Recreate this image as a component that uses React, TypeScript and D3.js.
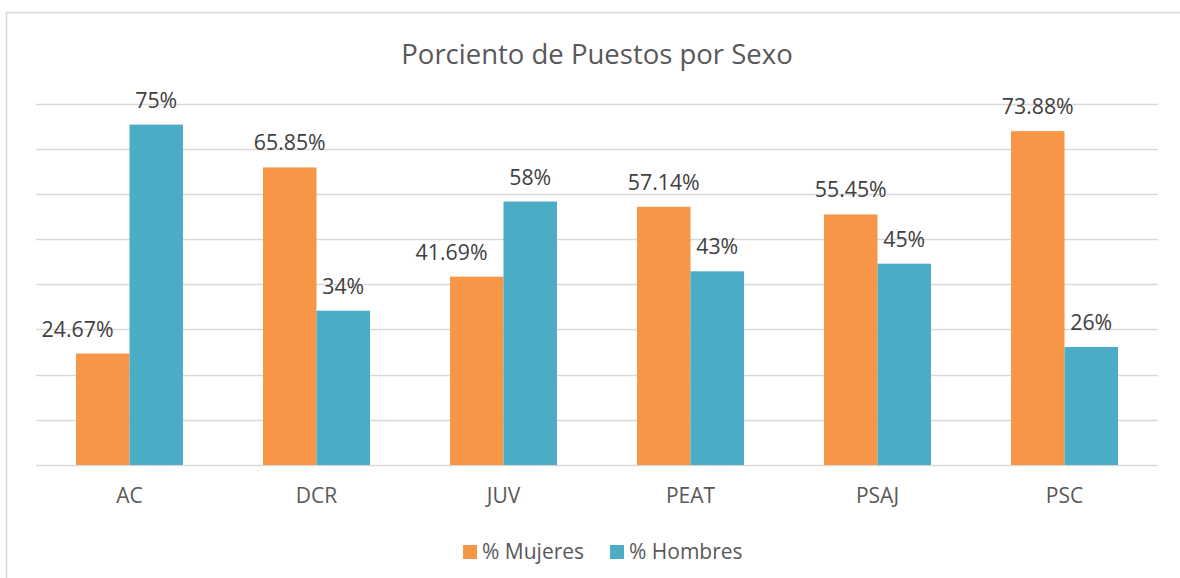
import React from 'react'
import * as d3 from 'd3'

const categories = ['AC', 'DCR', 'JUV', 'PEAT', 'PSAJ', 'PSC']
const mujeres = [24.67, 65.85, 41.69, 57.14, 55.45, 73.88]
const hombres = [75.33, 34.15, 58.31, 42.86, 44.55, 26.12]
const seriesNames = ['% Mujeres', '% Hombres']
const colors = ['#f79646', '#4bacc6']
const yTicks = [0, 10, 20, 30, 40, 50, 60, 70, 80]

const W = 1180
const H = 578
const FONT = "'Open Sans', 'Noto Sans', sans-serif"

export default function App() {
  const left = 36, right = 1158, top = 103.5, bottom = 465

  const x = d3.scaleBand().domain(categories).range([left, right]).paddingInner(0.428).paddingOuter(0.214)
  const x1 = d3.scaleBand().domain(seriesNames).range([0, x.bandwidth()])
  const y = d3.scaleLinear().domain([0, 80]).range([bottom, top])

  const fmtM = (v: number) => v.toFixed(2) + '%'
  const fmtH = (v: number) => Math.round(v) + '%'

  return (
    <svg width={W} height={H} style={{ position: 'absolute', left: 0, top: 0, background: '#fff' }}>
      <rect x={6.5} y={12.5} width={W} height={H} fill="#fff" stroke="#d9d9d9" strokeWidth={1.5} />
      <text x={597} y={64} textAnchor="middle" fontFamily={FONT} fontSize={27.5} fill="#595959">
        Porciento de Puestos por Sexo
      </text>

      {yTicks.map(t => (
        <line key={t} x1={left} x2={right} y1={Math.round(y(t)) + 0.5} y2={Math.round(y(t)) + 0.5}
          stroke="#d9d9d9" strokeWidth={1.5} />
      ))}

      {categories.map((c, i) => {
        const gx = x(c)!
        const mx = gx + x1(seriesNames[0])!
        const hx = gx + x1(seriesNames[1])!
        const bw = x1.bandwidth()
        // label of the orange bar is pushed left when the blue bar would hide it
        const mLabelY = y(mujeres[i]) - 17
        const blocked = y(hombres[i]) < mLabelY
        return (
          <g key={c}>
            <rect x={mx} y={y(mujeres[i])} width={bw} height={bottom - y(mujeres[i])} fill={colors[0]} />
            <rect x={hx} y={y(hombres[i])} width={bw} height={bottom - y(hombres[i])} fill={colors[1]} />
            <text x={blocked ? hx - 16 : mx + bw / 2} y={mLabelY} textAnchor={blocked ? 'end' : 'middle'}
              fontFamily={FONT} fontSize={21.3} fill="#404040">{fmtM(mujeres[i])}</text>
            <text x={hx + bw / 2} y={y(hombres[i]) - 17} textAnchor="middle"
              fontFamily={FONT} fontSize={21.3} fill="#404040">{fmtH(hombres[i])}</text>
            <text x={gx + x.bandwidth() / 2} y={503} textAnchor="middle"
              fontFamily={FONT} fontSize={21} fill="#595959">{c}</text>
          </g>
        )
      })}

      {seriesNames.map((s, i) => {
        const lx = i === 0 ? 463 : 610
        return (
          <g key={s}>
            <rect x={lx} y={545} width={14} height={14} fill={colors[i]} />
            <text x={lx + 19} y={559} fontFamily={FONT} fontSize={21} fill="#595959">{s}</text>
          </g>
        )
      })}
    </svg>
  )
}
